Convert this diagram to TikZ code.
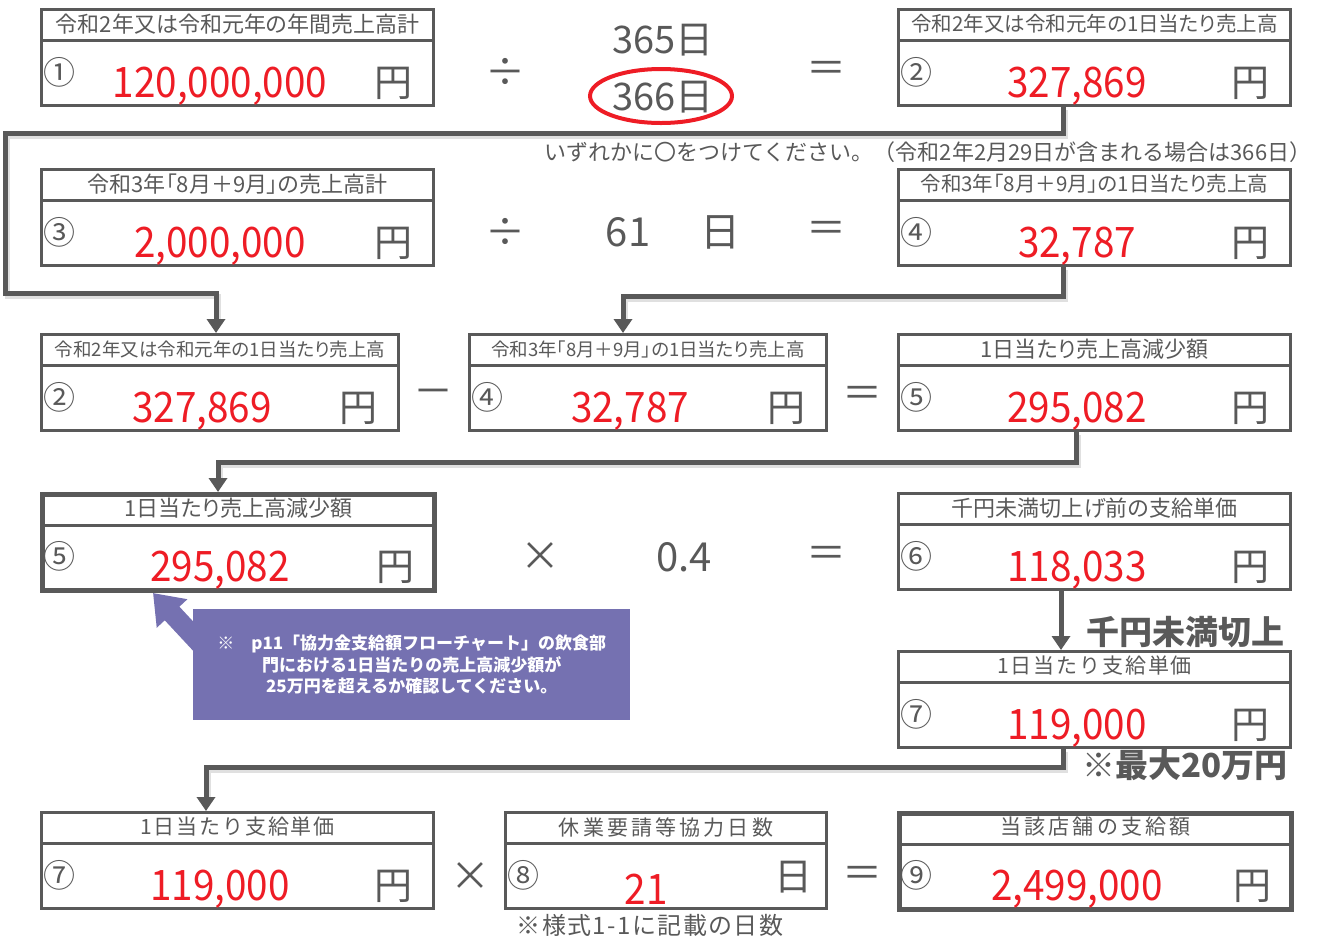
\documentclass[tikz,border=0pt]{standalone}
\usepackage{fontspec}
\setmainfont{Noto Sans CJK JP}
\usetikzlibrary{calc,arrows.meta,shapes.geometric}
\definecolor{tgray}{HTML}{595959}
\definecolor{nred}{HTML}{EE1C25}
\definecolor{cpurple}{HTML}{7571B1}
\newcommand\hA{\fontsize{22}{24}\selectfont\addfontfeatures{RawFeature=+palt}}
\newcommand\hC{\fontsize{20.5}{24}\selectfont\addfontfeatures{RawFeature=+palt}}
\newcommand\hB{\fontsize{18.5}{22}\selectfont\addfontfeatures{RawFeature=+palt}}
\newcommand\hS{\fontsize{21}{24}\selectfont\addfontfeatures{LetterSpace=15}}
\newcommand\hT{\fontsize{21}{24}\selectfont\addfontfeatures{LetterSpace=9}}
\tikzset{
 curbox/.style={},
 frame/.style={draw=tgray, line width=3pt},
 boxframe/.style={frame, rectangle, inner sep=0pt, fill=white, curbox},
 hdr/.style={text=tgray, inner sep=0pt},
 circnum/.style={text=tgray, font=\fontsize{32}{34}\selectfont, inner sep=0pt},
 val/.style={text=nred, font=\fontsize{42}{46}\selectfont\addfontfeatures{FakeStretch=0.92}, inner sep=0pt},
 unitlbl/.style={text=tgray, font=\fontsize{38}{42}\selectfont, inner sep=0pt},
 op/.style={text=tgray, font=\fontsize{40}{44}\selectfont, inner sep=0pt},
 conn/.style={draw=tgray, line width=5pt},
 connshadow/.style={draw=black!12, line width=5pt, transform canvas={shift={(2,3)}}},
 arr/.style={conn, -{Triangle[width=18pt,length=14pt]}},
 boldnote/.style={text=tgray, font=\fontsize{33}{36}\selectfont\bfseries, inner sep=0pt},
 note/.style={text=tgray, font=\fontsize{22}{26}\selectfont, inner sep=0pt},
 calltext/.style={text=white, font=\fontsize{17}{21.5}\selectfont\bfseries, align=center, inner sep=0pt},
 calloutarrow/.style={draw=cpurple, line width=20pt, -{Triangle[width=40pt,length=28pt]}},
}
\newcommand\mybox[9]{%
 \node[boxframe, minimum width=#4, minimum height=96, anchor=north west] (#1) at (#2,#3) {};
 \draw[frame] ($(#1.west)+(0,-17)$) -- ($(#1.east)+(0,-17)$);
 \node[hdr] (#1-h) at ($(#1.north)+(0,16)$) {#5};
 \node[circnum] (#1-c) at ($(#1.north west)+(19,64)$) {#6};
 \node[val] (#1-v) at ($(#1.north west)+(#8,78)$) {#7};
 \node[unitlbl] (#1-u) at ($(#1.north east)+(-42,75)$) {#9};
}
\begin{document}
\begin{tikzpicture}[x=1pt,y=-1pt]
\useasboundingbox (0,0) rectangle (1323,938);
% row 1
\mybox{b1}{40}{8}{392}{\hA 令和2年又は令和元年の年間売上高計}{①}{120,000,000}{180}{円}
\mybox{b2}{897}{8}{392}{\hC 令和2年又は令和元年の1日当たり売上高}{②}{327,869}{180}{円}
\node[op] (div1) at (505,72) {÷};
\node[op, font=\fontsize{38}{42}\selectfont] (d365) at (663,40) {365日};
\node[op, font=\fontsize{38}{42}\selectfont] (d366) at (663,97) {366日};
\node[draw=nred, ellipse, line width=4pt, minimum width=142pt, minimum height=54pt, inner sep=0pt] (ell) at (661,96) {};
\node[op] (eq1) at (826,72) {＝};
\node[note] (note1) at (928,152) {いずれかに〇をつけてください。（令和2年2月29日が含まれる場合は366日）};
% row 2
\mybox{b3}{40}{168}{392}{\hA 令和3年「8月＋9月」の売上高計}{③}{2,000,000}{180}{円}
\mybox{b4}{897}{168}{392}{\hC 令和3年「8月＋9月」の1日当たり売上高}{④}{32,787}{180}{円}
\node[op] (div2) at (505,232) {÷};
\node[op] (d61) at (628,232) {61};
\node[op] (d61u) at (720,232) {日};
\node[op] (eq2) at (826,232) {＝};
% row 3
\mybox{b2b}{40}{333}{357}{\hB 令和2年又は令和元年の1日当たり売上高}{②}{327,869}{162}{円}
\mybox{b4b}{468}{333}{357}{\hB 令和3年「8月＋9月」の1日当たり売上高}{④}{32,787}{162}{円}
\mybox{b5}{897}{333}{392}{\hA 1日当たり売上高減少額}{⑤}{295,082}{180}{円}
\node[op] (minus3) at (433,397) {－};
\node[op] (eq3) at (862,397) {＝};
% row 4
\tikzset{curbox/.style={line width=5pt}}
\mybox{b5b}{40}{492}{392}{\hA 1日当たり売上高減少額}{⑤}{295,082}{180}{円}
\tikzset{curbox/.style={}}
\mybox{b6}{897}{492}{392}{\hA 千円未満切上げ前の支給単価}{⑥}{118,033}{180}{円}
\node[op] (times4) at (540,557) {×};
\node[op] (f04) at (684,557) {0.4};
\node[op] (eq4) at (826,557) {＝};
\mybox{b7}{897}{650}{392}{\hT 1日当たり支給単価}{⑦}{119,000}{180}{円}
\node[boldnote] (roundup) at (1185,632) {千円未満切上};
\node[boldnote] (maxnote) at (1185,765) {※最大20万円};
% callout
\node[fill=cpurple, minimum width=437, minimum height=111, anchor=north west, inner sep=0pt] (call) at (193,609) {};
\coordinate (ctip) at (153,593);
\draw[calloutarrow] ($(call.north west)+(14,42)$) -- (ctip);
\node[calltext] (callt) at (call.center) {※　p11「協力金支給額フローチャート」の飲食部\\門における1日当たりの売上高減少額が\\25万円を超えるか確認してください。};
% row 5
\mybox{b7b}{40}{811}{392}{\hT 1日当たり支給単価}{⑦}{119,000}{180}{円}
\mybox{b8}{504}{811}{321}{\hS 休業要請等協力日数}{⑧}{21}{142}{}
\node[unitlbl] (b8-day) at ($(b8.north east)+(-35,66)$) {日};
\tikzset{curbox/.style={line width=5pt}}
\mybox{b9}{897}{811}{392}{\hS 当該店舗の支給額}{⑨}{2,499,000}{180}{円}
\tikzset{curbox/.style={}}
\node[op] (times5) at (470,877) {×};
\node[op] (eq5) at (862,877) {＝};
\node[note, font=\fontsize{24}{28}\selectfont\addfontfeatures{LetterSpace=6}] (note8) at (650,925) {※様式1-1に記載の日数};
% connectors
\coordinate (k1) at (5,133);
\coordinate (k2) at (5,293);
\draw[connshadow] ($(b2.south west)+(166,0)$) |- (k1) -- (k2) -| ($(b2b.north west)+(176,-16)$);
\draw[arr] ($(b2.south west)+(166,0)$) |- (k1) -- (k2) -| ($(b2b.north west)+(176,0)$);
\draw[connshadow] ($(b4.south west)+(166,0)$) -- ++(0,29) -| ($(b4b.north west)+(155,-16)$);
\draw[arr] ($(b4.south west)+(166,0)$) -- ++(0,29) -| ($(b4b.north west)+(155,0)$);
\draw[connshadow] ($(b5.south west)+(179,0)$) -- ++(0,30) -| ($(b5b.north west)+(178,-16)$);
\draw[arr] ($(b5.south west)+(179,0)$) -- ++(0,30) -| ($(b5b.north west)+(178,0)$);
\draw[arr] ($(b6.south west)+(164,0)$) -- ($(b7.north west)+(164,0)$);
\draw[connshadow] ($(b7.south west)+(166,0)$) -- ++(0,18) -| ($(b7b.north west)+(166,-16)$);
\draw[arr] ($(b7.south west)+(166,0)$) -- ++(0,18) -| ($(b7b.north west)+(166,0)$);
\end{tikzpicture}
\end{document}
